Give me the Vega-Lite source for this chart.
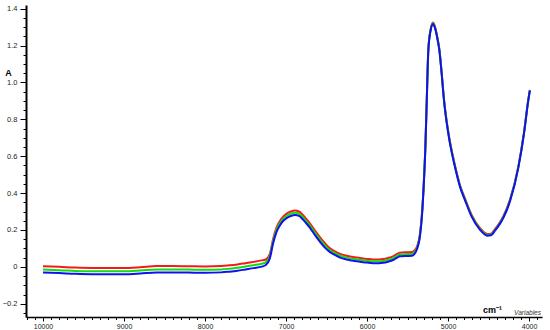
{
  "$schema": "https://vega.github.io/schema/vega-lite/v6.json",
  "autosize": {"type": "none"},
  "padding": {"left": 26, "top": 5, "right": 8, "bottom": 13},
  "width": 516,
  "height": 312,
  "background": "white",
  "config": {"view": {"stroke": null}, "font": "Liberation Sans"},
  "data": {"values": [
    {"w":10000,"r":0.003,"g":-0.015,"b":-0.031},
    {"w":9800,"r":0.0,"g":-0.018,"b":-0.034},
    {"w":9600,"r":-0.004,"g":-0.022,"b":-0.038},
    {"w":9400,"r":-0.006,"g":-0.024,"b":-0.04},
    {"w":9200,"r":-0.006,"g":-0.024,"b":-0.04},
    {"w":9000,"r":-0.006,"g":-0.024,"b":-0.04},
    {"w":8800,"r":-0.002,"g":-0.02,"b":-0.036},
    {"w":8600,"r":0.004,"g":-0.014,"b":-0.03},
    {"w":8400,"r":0.004,"g":-0.014,"b":-0.03},
    {"w":8200,"r":0.003,"g":-0.015,"b":-0.031},
    {"w":8000,"r":0.002,"g":-0.016,"b":-0.032},
    {"w":7800,"r":0.004,"g":-0.014,"b":-0.03},
    {"w":7700,"r":0.008,"g":-0.01,"b":-0.026},
    {"w":7600,"r":0.013,"g":-0.005,"b":-0.021},
    {"w":7500,"r":0.02,"g":0.002,"b":-0.014},
    {"w":7400,"r":0.027,"g":0.009,"b":-0.007},
    {"w":7300,"r":0.035,"g":0.017,"b":0.001},
    {"w":7250,"r":0.04,"g":0.024,"b":0.01},
    {"w":7200,"r":0.07,"g":0.058,"b":0.046},
    {"w":7160,"r":0.15,"g":0.138,"b":0.126},
    {"w":7120,"r":0.21,"g":0.198,"b":0.186},
    {"w":7074,"r":0.25,"g":0.238,"b":0.226},
    {"w":7030,"r":0.275,"g":0.263,"b":0.251},
    {"w":6988,"r":0.29,"g":0.278,"b":0.266},
    {"w":6940,"r":0.3,"g":0.288,"b":0.276},
    {"w":6889,"r":0.305,"g":0.293,"b":0.281},
    {"w":6840,"r":0.3,"g":0.288,"b":0.276},
    {"w":6790,"r":0.28,"g":0.268,"b":0.256},
    {"w":6740,"r":0.255,"g":0.243,"b":0.231},
    {"w":6704,"r":0.235,"g":0.223,"b":0.211},
    {"w":6640,"r":0.195,"g":0.183,"b":0.171},
    {"w":6580,"r":0.16,"g":0.148,"b":0.136},
    {"w":6520,"r":0.128,"g":0.116,"b":0.104},
    {"w":6457,"r":0.1,"g":0.09,"b":0.08},
    {"w":6400,"r":0.085,"g":0.075,"b":0.065},
    {"w":6333,"r":0.07,"g":0.06,"b":0.05},
    {"w":6250,"r":0.06,"g":0.05,"b":0.04},
    {"w":6150,"r":0.052,"g":0.042,"b":0.032},
    {"w":6086,"r":0.048,"g":0.038,"b":0.028},
    {"w":6000,"r":0.043,"g":0.033,"b":0.023},
    {"w":5926,"r":0.04,"g":0.03,"b":0.02},
    {"w":5850,"r":0.04,"g":0.03,"b":0.02},
    {"w":5802,"r":0.042,"g":0.032,"b":0.022},
    {"w":5740,"r":0.048,"g":0.038,"b":0.028},
    {"w":5679,"r":0.057,"g":0.047,"b":0.037},
    {"w":5630,"r":0.07,"g":0.06,"b":0.05},
    {"w":5593,"r":0.077,"g":0.067,"b":0.057},
    {"w":5520,"r":0.079,"g":0.069,"b":0.059},
    {"w":5444,"r":0.08,"g":0.07,"b":0.06},
    {"w":5410,"r":0.09,"g":0.081,"b":0.072},
    {"w":5383,"r":0.11,"g":0.103,"b":0.097},
    {"w":5346,"r":0.18,"g":0.173,"b":0.167},
    {"w":5320,"r":0.3,"g":0.294,"b":0.288},
    {"w":5300,"r":0.45,"g":0.446,"b":0.442},
    {"w":5280,"r":0.65,"g":0.647,"b":0.644},
    {"w":5263,"r":0.9,"g":0.897,"b":0.894},
    {"w":5243,"r":1.18,"g":1.177,"b":1.174},
    {"w":5214,"r":1.29,"g":1.287,"b":1.284},
    {"w":5185,"r":1.325,"g":1.321,"b":1.317},
    {"w":5160,"r":1.3,"g":1.297,"b":1.294},
    {"w":5130,"r":1.24,"g":1.237,"b":1.234},
    {"w":5107,"r":1.18,"g":1.177,"b":1.174},
    {"w":5080,"r":1.06,"g":1.057,"b":1.054},
    {"w":5050,"r":0.91,"g":0.906,"b":0.902},
    {"w":4996,"r":0.73,"g":0.725,"b":0.721},
    {"w":4914,"r":0.55,"g":0.545,"b":0.541},
    {"w":4850,"r":0.44,"g":0.435,"b":0.431},
    {"w":4790,"r":0.37,"g":0.365,"b":0.361},
    {"w":4707,"r":0.28,"g":0.275,"b":0.271},
    {"w":4605,"r":0.21,"g":0.205,"b":0.201},
    {"w":4515,"r":0.178,"g":0.173,"b":0.169},
    {"w":4470,"r":0.18,"g":0.175,"b":0.171},
    {"w":4420,"r":0.205,"g":0.2,"b":0.196},
    {"w":4370,"r":0.235,"g":0.23,"b":0.226},
    {"w":4317,"r":0.275,"g":0.27,"b":0.266},
    {"w":4235,"r":0.365,"g":0.36,"b":0.356},
    {"w":4132,"r":0.545,"g":0.541,"b":0.538},
    {"w":4062,"r":0.73,"g":0.727,"b":0.724},
    {"w":4010,"r":0.905,"g":0.902,"b":0.9},
    {"w":3990,"r":0.96,"g":0.958,"b":0.956}
  ]},
  "transform": [{"fold": ["r", "g", "b"], "as": ["s", "A"]}],
  "resolve": {"axis": {"x": "independent", "y": "independent"}},
  "layer": [
    {
      "mark": {"type": "line", "interpolate": "monotone", "clip": true},
      "encoding": {
        "x": {"field": "w", "type": "quantitative",
          "scale": {"domain": [3840, 10210], "reverse": true, "nice": false, "zero": false},
          "axis": {"orient": "bottom", "values": [10000, 9000, 8000, 7000, 6000, 5000, 4000], "format": "d",
            "grid": false, "domainColor": "#000", "domainWidth": 1.5, "tickColor": "#000", "tickSize": 4, "tickWidth": 1,
            "labelFontSize": 7, "labelColor": "#222", "labelPadding": 1, "labelFont": "Liberation Sans",
            "title": "cm⁻¹", "titleFontSize": 9, "titleFontWeight": "bold", "titleColor": "#000",
            "titleX": 466, "titleY": -8, "titleAnchor": "middle", "titleBaseline": "middle"}},
        "y": {"field": "A", "type": "quantitative",
          "scale": {"domain": [-0.272, 1.42], "nice": false, "zero": false},
          "axis": {"orient": "left", "values": [-0.2, 0, 0.2, 0.4, 0.6, 0.8, 1.0, 1.2, 1.4],
            "labelExpr": "datum.value == 0 ? '0' : format(datum.value, '.1f')",
            "grid": false, "domainColor": "#000", "domainWidth": 2, "tickColor": "#000", "tickSize": 6, "tickWidth": 1,
            "labelFontSize": 7.5, "labelColor": "#222", "labelPadding": 3, "labelFont": "Liberation Sans",
            "title": "A", "titleAngle": 0, "titleFontSize": 9, "titleFontWeight": "bold", "titleColor": "#000",
            "titleX": -18, "titleY": 67, "titleAlign": "center", "titleBaseline": "middle"}},
        "color": {"field": "s", "type": "nominal", "scale": {"domain": ["r", "g", "b"], "range": ["#f51a1a", "#10dc10", "#1010f0"]}, "legend": null},
        "strokeWidth": {"field": "s", "type": "nominal", "scale": {"domain": ["r", "g", "b"], "range": [2, 2, 3]}, "legend": null}
      }
    },
    {
      "mark": {"type": "line", "opacity": 0, "clip": true},
      "encoding": {
        "x": {"field": "w", "type": "quantitative",
          "scale": {"domain": [3840, 10210], "reverse": true, "nice": false, "zero": false},
          "axis": {"orient": "bottom", "values": [10200,10100,9900,9800,9700,9600,9500,9400,9300,9200,9100,8900,8800,8700,8600,8500,8400,8300,8200,8100,7900,7800,7700,7600,7500,7400,7300,7200,7100,6900,6800,6700,6600,6500,6400,6300,6200,6100,5900,5800,5700,5600,5500,5400,5300,5200,5100,4900,4800,4700,4600,4500,4400,4300,4200,4100,3900],
            "labels": false, "domain": false, "grid": false, "tickColor": "#000", "tickSize": 2.5, "tickWidth": 1,
            "title": "Variables", "titleFontSize": 6.5, "titleFontStyle": "italic", "titleFontWeight": "normal", "titleColor": "#333",
            "titleX": 501, "titleY": -5, "titleAnchor": "middle", "titleBaseline": "middle"}},
        "y": {"field": "A", "type": "quantitative",
          "scale": {"domain": [-0.272, 1.42], "nice": false, "zero": false},
          "axis": {"orient": "left", "values": [-0.25,-0.15,-0.1,-0.05,0.05,0.1,0.15,0.25,0.3,0.35,0.45,0.5,0.55,0.65,0.7,0.75,0.85,0.9,0.95,1.05,1.1,1.15,1.25,1.3,1.35],
            "labels": false, "domain": false, "grid": false, "tickColor": "#000", "tickSize": 3, "tickWidth": 1, "title": null}},
        "detail": {"field": "s", "type": "nominal"}
      }
    }
  ]
}
